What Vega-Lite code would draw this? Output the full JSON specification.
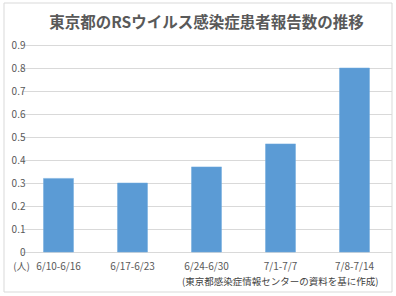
{
  "$schema": "https://vega.github.io/schema/vega-lite/v6.json",
  "width": 343,
  "height": 207,
  "autosize": {"type": "none"},
  "padding": {"left": 35, "top": 45, "right": 18, "bottom": 44},
  "background": "white",
  "title": {
    "text": "東京都のRSウイルス感染症患者報告数の推移",
    "font": "Noto Sans CJK JP",
    "fontSize": 15.5,
    "fontWeight": "bold",
    "color": "#595959",
    "anchor": "middle",
    "baseline": "middle",
    "offset": -36
  },
  "config": {
    "view": {"stroke": null},
    "font": "Noto Sans CJK JP"
  },
  "layer": [
    {
      "data": {"values": [{}]},
      "mark": {"type": "rect", "fill": null, "stroke": "#d9d9d9", "strokeWidth": 1},
      "encoding": {
        "x": {"value": -31},
        "x2": {"value": 357},
        "y": {"value": -42},
        "y2": {"value": 247}
      }
    },
    {
      "data": {
        "values": [
          {"week": "6/10-6/16", "count": 0.32},
          {"week": "6/17-6/23", "count": 0.30},
          {"week": "6/24-6/30", "count": 0.37},
          {"week": "7/1-7/7", "count": 0.47},
          {"week": "7/8-7/14", "count": 0.80}
        ]
      },
      "mark": {"type": "bar", "color": "#5b9bd5", "stroke": "#6fa8dc", "strokeWidth": 0.5},
      "encoding": {
        "x": {
          "field": "week",
          "type": "nominal",
          "sort": null,
          "scale": {"range": [-13.5, 356.5], "paddingInner": 0.595, "paddingOuter": 0.2975},
          "axis": {
            "title": "(東京都感染症情報センターの資料を基に作成)",
            "titleFontSize": 9.5,
            "titleFontWeight": "normal",
            "titleColor": "#404040",
            "titleAnchor": "end",
            "titleAlign": "right",
            "titleBaseline": "middle",
            "titleX": 343,
            "titleY": 29,
            "labelAngle": 0,
            "labelFontSize": 10,
            "labelColor": "#595959",
            "labelPadding": 9,
            "domain": false,
            "ticks": false
          }
        },
        "y": {
          "field": "count",
          "type": "quantitative",
          "scale": {"domain": [0, 0.9], "nice": false},
          "axis": {
            "values": [0, 0.1, 0.2, 0.3, 0.4, 0.5, 0.6, 0.7, 0.8, 0.9],
            "format": ".1~f",
            "title": "(人)",
            "titleAngle": 0,
            "titleFontSize": 10,
            "titleFontWeight": "normal",
            "titleColor": "#595959",
            "titleAlign": "center",
            "titleBaseline": "middle",
            "titleX": -14,
            "titleY": 221,
            "labelFontSize": 10,
            "labelColor": "#595959",
            "labelPadding": 10,
            "domain": false,
            "ticks": false,
            "gridColor": "#d9d9d9",
            "gridWidth": 1
          }
        }
      }
    }
  ]
}
